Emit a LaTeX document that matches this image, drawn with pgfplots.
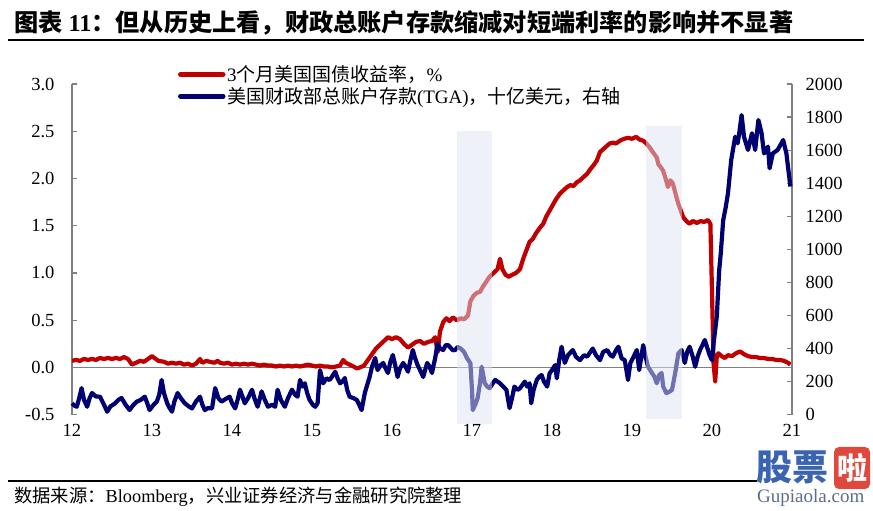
\documentclass[border=0pt]{standalone}
\usepackage{fontspec}
\setmainfont{Liberation Serif}
\newfontfamily\cjk{Noto Sans CJK SC}
\usepackage{pgfplots}
\pgfplotsset{compat=1.18}
\definecolor{myred}{RGB}{192,0,0}
\definecolor{mynavy}{RGB}{0,0,112}
\definecolor{axgray}{RGB}{128,128,128}
\definecolor{shade}{RGB}{222,227,240}
\definecolor{wmblue}{RGB}{58,100,176}
\definecolor{wmred}{RGB}{224,72,62}
\definecolor{wmgray}{RGB}{90,110,140}

\pgfplotsset{base/.style={scale only axis, width=720pt, height=330.7pt,
  at={(0pt,0pt)}, anchor=south west, xmin=12, xmax=21,
  ticklabel style={font=\fontsize{18.5}{20}\selectfont},
  /pgf/number format/assume math mode=true,
  tick align=inside, major tick length=5pt,
  y axis line style={axgray, line width=1.2pt, -},
  ytick style={axgray, line width=1.2pt},
  every axis plot/.append style={line width=4.2pt, line join=round}}}

\begin{document}
\begin{tikzpicture}
\path[use as bounding box] (-72pt,-96.3pt) rectangle (801pt,414.7pt);
\begin{scope}[x=1pt,y=1pt,shift={(-72pt,-96.3pt)}]
% title
\node[anchor=base west, inner sep=0pt] at (14,479.5) {\fontsize{24.2}{27}\selectfont\bfseries{\cjk 图表}~11{\cjk ：但从历史上看，财政总账户存款缩减对短端利率的影响并不显著}};
\draw[black, line width=1.2pt] (8,471) -- (864,471);
% footer
\draw[black, line width=1.2pt] (8,30) -- (757,30);
\node[anchor=base west, inner sep=0pt] at (14,8) {\fontsize{18.3}{20}\selectfont{\cjk 数据来源：}Bloomberg{\cjk ，兴业证券经济与金融研究院整理}};
\end{scope}

% left axis
\begin{axis}[base,
  ymin=-0.5, ymax=3, ytick={-0.5,0,0.5,1,1.5,2,2.5,3},
  axis y line*=left, axis x line*=bottom,
  x axis line style={draw=none}, xtick style={draw=none},
  xtick={12,...,21},
  xticklabel style={yshift=-6pt},
  yticklabel style={xshift=-14pt, /pgf/number format/fixed, /pgf/number format/fixed zerofill, /pgf/number format/precision=1},
]
\draw[axgray, line width=1.2pt] (axis cs:12,0) -- (axis cs:21,0);
\addplot[myred] coordinates {
(12.00,0.07) (12.05,0.08) (12.10,0.07) (12.15,0.09) (12.20,0.08) (12.25,0.09) (12.30,0.08) (12.35,0.10) (12.40,0.09) (12.45,0.10)
(12.50,0.09) (12.55,0.10) (12.60,0.09) (12.65,0.11) (12.70,0.09) (12.75,0.03) (12.80,0.05) (12.85,0.07) (12.90,0.06) (12.95,0.09)
(13.00,0.12) (13.03,0.10) (13.08,0.07) (13.15,0.06) (13.20,0.04) (13.25,0.05) (13.30,0.04) (13.35,0.05) (13.40,0.03) (13.45,0.04)
(13.50,0.02) (13.55,0.04) (13.60,0.09) (13.63,0.05) (13.68,0.07) (13.72,0.06) (13.78,0.05) (13.82,0.07) (13.85,0.05) (13.90,0.04)
(13.95,0.05) (14.00,0.03) (14.05,0.04) (14.10,0.03) (14.15,0.04) (14.20,0.03) (14.25,0.04) (14.30,0.03) (14.35,0.02) (14.40,0.03)
(14.45,0.02) (14.50,0.02) (14.55,0.01) (14.60,0.02) (14.65,0.01) (14.70,0.02) (14.75,0.01) (14.80,0.02) (14.85,0.01) (14.90,0.02)
(14.95,0.03) (15.00,0.02) (15.05,0.01) (15.10,0.02) (15.15,0.01) (15.20,0.01) (15.25,0.00) (15.30,0.01) (15.35,0.02) (15.39,0.08)
(15.42,0.05) (15.47,0.03) (15.52,0.01) (15.56,-0.01) (15.60,0.00) (15.65,0.02) (15.70,0.08) (15.75,0.14) (15.80,0.20) (15.85,0.24)
(15.90,0.28) (15.95,0.32) (16.00,0.30) (16.05,0.32) (16.10,0.30) (16.15,0.25) (16.20,0.21) (16.25,0.24) (16.30,0.27) (16.35,0.28)
(16.40,0.25) (16.45,0.27) (16.50,0.28) (16.54,0.32) (16.57,0.16) (16.60,0.38) (16.64,0.48) (16.68,0.52) (16.72,0.49) (16.76,0.53)
(16.81,0.50) (16.86,0.52) (16.90,0.51) (16.95,0.55) (16.98,0.70) (17.02,0.76) (17.06,0.79) (17.10,0.80) (17.14,0.86) (17.18,0.91)
(17.22,0.96) (17.27,1.00) (17.32,1.04) (17.35,1.15) (17.38,1.04) (17.42,0.98) (17.46,0.96) (17.50,0.98) (17.55,1.00) (17.60,1.04)
(17.64,1.15) (17.68,1.24) (17.72,1.33) (17.76,1.36) (17.80,1.42) (17.85,1.48) (17.89,1.52) (17.93,1.60) (17.97,1.66) (18.01,1.72)
(18.05,1.78) (18.10,1.84) (18.15,1.88) (18.19,1.91) (18.23,1.93) (18.27,1.92) (18.31,1.96) (18.35,1.98) (18.40,2.02) (18.44,2.05)
(18.48,2.10) (18.52,2.14) (18.56,2.19) (18.60,2.28) (18.64,2.31) (18.68,2.34) (18.72,2.37) (18.76,2.38) (18.80,2.37) (18.85,2.40)
(18.90,2.42) (18.95,2.43) (19.00,2.42) (19.05,2.44) (19.10,2.41) (19.14,2.40) (19.18,2.37) (19.22,2.33) (19.26,2.28) (19.31,2.22)
(19.33,2.15) (19.36,2.12) (19.39,2.08) (19.42,2.00) (19.45,1.91) (19.48,1.98) (19.51,1.95) (19.55,1.82) (19.58,1.73) (19.61,1.66)
(19.64,1.59) (19.68,1.55) (19.72,1.52) (19.76,1.55) (19.81,1.53) (19.86,1.55) (19.90,1.54) (19.95,1.56) (19.98,1.52) (20.00,0.80)
(20.02,0.04) (20.04,-0.15) (20.06,0.12) (20.08,0.15) (20.12,0.12) (20.16,0.10) (20.20,0.13) (20.25,0.12) (20.30,0.15) (20.35,0.17)
(20.40,0.14) (20.45,0.12) (20.50,0.11) (20.55,0.11) (20.60,0.10) (20.65,0.10) (20.70,0.09) (20.75,0.09) (20.80,0.08) (20.85,0.08)
(20.90,0.07) (20.95,0.05) (20.98,0.03)
};
\end{axis}

% right axis
\begin{axis}[base,
  ymin=0, ymax=2000, ytick={0,200,...,2000},
  axis y line*=right, axis x line=none, clip=false,
  yticklabel style={xshift=10pt, /pgf/number format/1000 sep={}},
  legend style={at={(0.147,1.0605)}, anchor=north west, draw=none, fill=none,
    font=\fontsize{19}{22}\selectfont, inner sep=0pt, row sep=1pt,
    nodes={inner sep=1.5pt}},
  legend cell align=left,
  legend image code/.code={\draw[#1, line width=5pt, line cap=round] (2.5pt,0pt) -- (45pt,0pt);},
]
\addlegendimage{myred}
\addlegendentry{3{\cjk 个月美国国债收益率，}\%}
\addplot[mynavy] coordinates {
(12.00,69) (12.03,55) (12.06,48) (12.09,100) (12.12,161) (12.15,90) (12.19,48) (12.22,100) (12.25,131) (12.30,110)
(12.35,109) (12.40,60) (12.44,18) (12.48,50) (12.54,69) (12.58,90) (12.62,101) (12.67,60) (12.72,28) (12.76,55)
(12.81,79) (12.86,90) (12.91,109) (12.94,70) (12.97,28) (13.02,60) (13.06,79) (13.09,120) (13.12,210) (13.15,130)
(13.19,69) (13.22,40) (13.25,18) (13.28,80) (13.32,131) (13.36,100) (13.41,69) (13.46,50) (13.50,38) (13.55,80)
(13.60,109) (13.63,60) (13.66,28) (13.70,40) (13.75,38) (13.79,161) (13.83,100) (13.87,79) (13.92,95) (13.97,109)
(14.00,70) (14.04,38) (14.07,90) (14.10,151) (14.13,110) (14.16,69) (14.20,100) (14.25,151) (14.28,100) (14.32,48)
(14.35,100) (14.37,141) (14.41,90) (14.45,48) (14.50,60) (14.54,48) (14.57,151) (14.61,90) (14.66,48) (14.70,100)
(14.75,151) (14.79,120) (14.82,109) (14.85,210) (14.88,170) (14.91,190) (14.94,130) (14.97,89) (15.01,60) (15.04,48)
(15.07,69) (15.10,270) (15.14,190) (15.18,220) (15.22,210) (15.25,230) (15.29,260) (15.32,220) (15.35,190) (15.38,200)
(15.41,222) (15.44,150) (15.47,109) (15.52,100) (15.56,89) (15.59,60) (15.62,28) (15.66,131) (15.69,180) (15.72,228)
(15.75,290) (15.79,343) (15.82,270) (15.86,300) (15.89,313) (15.92,280) (15.95,252) (15.98,320) (16.01,361) (16.04,300)
(16.07,228) (16.10,280) (16.14,313) (16.17,290) (16.20,260) (16.23,330) (16.26,391) (16.29,340) (16.32,300) (16.36,260)
(16.39,228) (16.42,280) (16.44,313) (16.47,290) (16.50,252) (16.52,300) (16.54,343) (16.57,432) (16.60,400) (16.64,391)
(16.67,420) (16.70,421) (16.72,411) (16.76,390) (16.79,391) (16.82,410) (16.86,400) (16.90,380) (16.94,340) (16.98,312)
(17.00,150) (17.01,28) (17.04,60) (17.07,100) (17.10,190) (17.12,290) (17.14,240) (17.16,190) (17.19,170) (17.22,160)
(17.26,190) (17.29,210) (17.32,200) (17.35,190) (17.39,170) (17.43,150) (17.47,40) (17.50,100) (17.53,170) (17.57,150)
(17.60,160) (17.63,180) (17.66,200) (17.69,170) (17.72,190) (17.74,69) (17.77,150) (17.81,210) (17.84,230) (17.87,240)
(17.90,200) (17.94,170) (17.97,250) (18.00,270) (18.04,300) (18.06,220) (18.09,330) (18.12,411) (18.16,313) (18.20,360)
(18.26,391) (18.30,350) (18.35,330) (18.40,360) (18.44,351) (18.48,380) (18.51,400) (18.55,360) (18.60,330) (18.64,380)
(18.69,391) (18.73,360) (18.76,351) (18.80,390) (18.83,411) (18.87,341) (18.91,330) (18.95,210) (18.98,313) (19.02,350)
(19.06,391) (19.09,270) (19.11,330) (19.14,421) (19.17,350) (19.20,290) (19.25,252) (19.28,230) (19.31,190) (19.34,240)
(19.37,252) (19.39,170) (19.43,130) (19.47,140) (19.50,150) (19.54,252) (19.58,371) (19.62,391) (19.66,313) (19.69,380)
(19.72,411) (19.76,350) (19.79,290) (19.82,350) (19.85,391) (19.88,420) (19.91,452) (19.95,391) (19.97,360) (20.00,330)
(20.02,432) (20.06,593) (20.09,875) (20.11,977) (20.14,1177) (20.17,1250) (20.20,1340) (20.24,1540) (20.29,1681) (20.32,1641)
(20.34,1700) (20.37,1812) (20.40,1681) (20.45,1601) (20.50,1702) (20.54,1601) (20.58,1782) (20.62,1702) (20.65,1580) (20.70,1621)
(20.72,1490) (20.76,1580) (20.82,1601) (20.89,1661) (20.93,1580) (20.98,1380)
};
\addlegendentry{{\cjk 美国财政部总账户存款}(TGA){\cjk ，十亿美元，右轴}}
\addplot[fill=shade, fill opacity=0.5, draw=none, forget plot] coordinates {(16.81,-56) (17.25,-56) (17.25,1716) (16.81,1716)} -- cycle;
\addplot[fill=shade, fill opacity=0.5, draw=none, forget plot] coordinates {(19.18,-26) (19.62,-26) (19.62,1748) (19.18,1748)} -- cycle;
\end{axis}

% watermark
\begin{scope}[x=1pt,y=1pt,shift={(-72pt,-96.3pt)}]
\node[anchor=base west, inner sep=0pt, text=wmblue] at (756,30) {\fontsize{36}{38}\selectfont\cjk\bfseries 股票};
\node[fill=wmred, rounded corners=5pt, text=white, inner sep=1pt, minimum width=36pt, minimum height=42pt] at (852,43) {\fontsize{30}{32}\selectfont\cjk\bfseries 啦};
\node[anchor=base west, inner sep=0pt, text=wmgray] at (757,8) {\fontsize{19}{20}\selectfont Gupiaola.com};
\end{scope}
\end{tikzpicture}
\end{document}
